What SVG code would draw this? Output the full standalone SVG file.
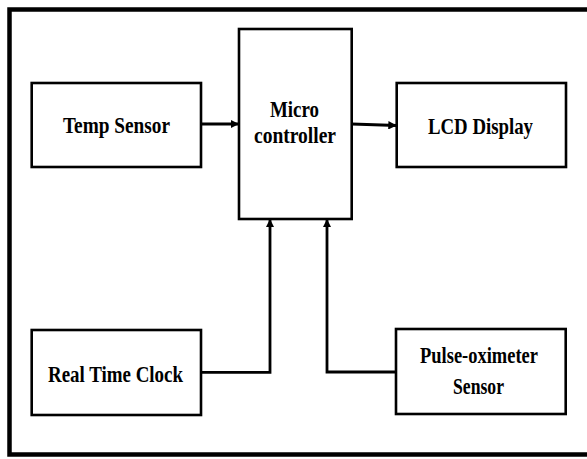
<svg xmlns="http://www.w3.org/2000/svg" width="587" height="459" viewBox="0 0 587 459">
  <style>
    .box { fill: #ffffff; stroke: #000000; stroke-width: 2.6; }
    .lbl { font-family: "Liberation Serif", "Times New Roman", serif; font-weight: bold; font-size: 24px; fill: #000000; text-anchor: middle; }
    .wire { fill: none; stroke: #000000; stroke-width: 2.8; }
  </style>
  <defs>
    <marker id="arrow" viewBox="0 0 10 10" refX="10" refY="5" markerWidth="3" markerHeight="3" orient="auto" markerUnits="strokeWidth">
      <path d="M0,0 L10,5 L0,10 Z" fill="#000000"/>
    </marker>
  </defs>

  <rect x="0" y="0" width="587" height="459" fill="#ffffff"/>
  <!-- outer frame -->
  <rect x="9.5" y="9.5" width="582" height="445" fill="none" stroke="#000000" stroke-width="4.5"/>

  <g id="temp-sensor">
    <rect class="box" x="31.7" y="83" width="169.3" height="84"/>
    <text class="lbl" x="116.5" y="133" textLength="107" lengthAdjust="spacingAndGlyphs">Temp Sensor</text>
  </g>

  <g id="microcontroller">
    <rect class="box" x="239" y="29" width="112.7" height="190"/>
    <text class="lbl" x="294.5" y="117" textLength="49" lengthAdjust="spacingAndGlyphs">Micro</text>
    <text class="lbl" x="295" y="143" textLength="82" lengthAdjust="spacingAndGlyphs">controller</text>
  </g>

  <g id="lcd-display">
    <rect class="box" x="396.7" y="83" width="169.3" height="84"/>
    <text class="lbl" x="480.5" y="134" textLength="105" lengthAdjust="spacingAndGlyphs">LCD Display</text>
  </g>

  <g id="real-time-clock">
    <rect class="box" x="31.7" y="330" width="169.3" height="85"/>
    <text class="lbl" x="115.5" y="382" textLength="135" lengthAdjust="spacingAndGlyphs">Real Time Clock</text>
  </g>

  <g id="pulse-oximeter">
    <rect class="box" x="396" y="329" width="169.7" height="85"/>
    <text class="lbl" x="479" y="363" textLength="118" lengthAdjust="spacingAndGlyphs">Pulse-oximeter</text>
    <text class="lbl" x="478.5" y="394" textLength="51" lengthAdjust="spacingAndGlyphs">Sensor</text>
  </g>

  <g id="connectors">
    <path class="wire" d="M201,124 L239,124" marker-end="url(#arrow)"/>
    <path class="wire" d="M351.7,124 L396.7,125.5" marker-end="url(#arrow)"/>
    <path class="wire" d="M201,372.3 L270,372.3 L270,219" marker-end="url(#arrow)"/>
    <path class="wire" d="M396,372 L327,372 L327,219" marker-end="url(#arrow)"/>
  </g>
</svg>
